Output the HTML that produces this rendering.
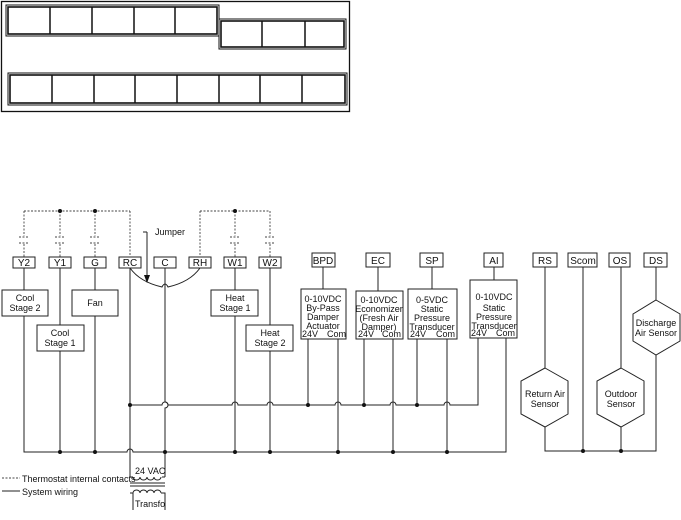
<!DOCTYPE html><html><head><style>body{margin:0;background:#fff}svg{display:block}text{font-family:"Liberation Sans",sans-serif;font-size:9px;fill:#111}</style></head><body>
<svg width="681" height="520" xmlns="http://www.w3.org/2000/svg">
<g fill="none" stroke="#111">
<rect x="1.5" y="1.5" width="348" height="110" stroke-width="1.3"/>
<rect x="6" y="5" width="213" height="31" stroke-width="1"/><rect x="8" y="7" width="209" height="27" stroke-width="1.6"/>
<path d="M50 7V34M92 7V34M134 7V34M175 7V34" stroke-width="1.5"/>
<rect x="219" y="19" width="127" height="30" stroke-width="1"/><rect x="221" y="21" width="123" height="26" stroke-width="1.6"/>
<path d="M262 21V47M305 21V47" stroke-width="1.5"/>
<rect x="8" y="73" width="339" height="32" stroke-width="1"/><rect x="10" y="75" width="335" height="28" stroke-width="1.6"/>
<path d="M52 75V103M94 75V103M135 75V103M177 75V103M219 75V103M260 75V103M302 75V103" stroke-width="1.5"/>
</g>
<g fill="none" stroke="#444" stroke-width="0.9" stroke-dasharray="2,1.5">
<path d="M24 211H130M200 211H270"/>
<path d="M24 211V236M60 211V236M95 211V236M235 211V236M270 211V236"/>
<path d="M24 244V257M60 244V257M95 244V257M235 244V257M270 244V257"/>
<path d="M130 211V257M200 211V257"/>
<path d="M19 237H29M19 243H29M55 237H65M55 243H65M90 237H100M90 243H100M230 237H240M230 243H240M265 237H275M265 243H275"/>
<path d="M2 478H20"/>
</g>
<g fill="#111"><circle cx="60" cy="211" r="2"/><circle cx="95" cy="211" r="2"/><circle cx="235" cy="211" r="2"/></g>
<g fill="none" stroke="#222" stroke-width="1">
<rect x="13" y="257" width="22" height="11"/><rect x="49" y="257" width="22" height="11"/><rect x="84" y="257" width="22" height="11"/><rect x="119" y="257" width="22" height="11"/><rect x="154" y="257" width="22" height="11"/><rect x="189" y="257" width="22" height="11"/><rect x="224" y="257" width="22" height="11"/><rect x="259" y="257" width="22" height="11"/>
<rect x="312" y="253" width="23" height="14"/><rect x="366" y="253" width="24" height="14"/><rect x="420" y="253" width="23" height="14"/><rect x="484" y="253" width="19" height="14"/>
<rect x="533" y="253" width="24" height="14"/><rect x="568" y="253" width="29" height="14"/><rect x="609" y="253" width="21" height="14"/><rect x="644" y="253" width="23" height="14"/>
<rect x="2" y="290" width="46" height="26"/><rect x="37" y="325" width="47" height="26"/><rect x="72" y="290" width="46" height="26"/><rect x="211" y="290" width="47" height="26"/><rect x="246" y="325" width="47" height="26"/>
<rect x="301" y="289" width="45" height="50"/><rect x="356" y="291" width="47" height="48"/><rect x="408" y="289" width="49" height="50"/><rect x="470" y="280" width="47" height="58"/>
<path d="M24 268V290M24 316V452H127a3 3 0 0 1 6 0H506V338"/>
<path d="M60 268V325M60 351V452M95 268V290M95 316V452M235 268V290M235 316V452M270 268V325M270 351V452"/>
<path d="M130 268V477M165 268V402a3 3 0 0 1 0 6V477"/>
<path d="M130 405H162a3 3 0 0 1 6 0H232a3 3 0 0 1 6 0H267a3 3 0 0 1 6 0H335a3 3 0 0 1 6 0H390a3 3 0 0 1 6 0H444a3 3 0 0 1 6 0H478V338"/>
<path d="M323 267V289M378 267V291M432 267V289M494 267V280"/>
<path d="M308 339V405M338 339V452M364 339V405M393 339V452M417 339V405M447 339V452"/>
<path d="M130 268Q140 282 162 287q3 -6 6 0Q190 282 200 268"/>
<path d="M147 232V282M143 232H147"/>
<path d="M545 267V368M545 427V451H656V355M583 267V451M621 267V368M621 427V451M656 267V300"/>
<polygon points="545,368 568,381 568,414 545,427 521,414 521,381"/>
<polygon points="621,368 644,381 644,414 621,427 597,414 597,381"/>
<polygon points="656,300 680,314 680,341 656,355 633,341 633,314"/>
<path d="M2 491H20"/>
<path d="M130 477H133M162 477H165"/>
<path d="M133 477a3.5 3 0 0 0 7 0a3.5 3 0 0 0 7 0a3.5 3 0 0 0 7 0a3.5 3 0 0 0 7 0"/>
<path d="M130 483H165M130 486H165"/>
<path d="M133 493a3.5 3 0 0 1 7 0a3.5 3 0 0 1 7 0a3.5 3 0 0 1 7 0a3.5 3 0 0 1 7 0M130 493H133V510M161 493H165V510"/>
</g>
<polygon points="144,275 150,275 147,283" fill="#111"/>
<g fill="#111">
<circle cx="60" cy="452" r="2"/><circle cx="95" cy="452" r="2"/><circle cx="165" cy="452" r="2"/><circle cx="235" cy="452" r="2"/><circle cx="270" cy="452" r="2"/><circle cx="338" cy="452" r="2"/><circle cx="393" cy="452" r="2"/><circle cx="447" cy="452" r="2"/>
<circle cx="130" cy="405" r="2"/><circle cx="308" cy="405" r="2"/><circle cx="364" cy="405" r="2"/><circle cx="417" cy="405" r="2"/>
<circle cx="583" cy="451" r="2"/><circle cx="621" cy="451" r="2"/>
</g>
<g text-anchor="middle" font-size="10">
<text x="24" y="266" style="font-size:10px">Y2</text><text x="60" y="266" style="font-size:10px">Y1</text><text x="95" y="266" style="font-size:10px">G</text><text x="130" y="266" style="font-size:10px">RC</text><text x="165" y="266" style="font-size:10px">C</text><text x="200" y="266" style="font-size:10px">RH</text><text x="235" y="266" style="font-size:10px">W1</text><text x="270" y="266" style="font-size:10px">W2</text>
<text x="323" y="264" style="font-size:10px">BPD</text><text x="378" y="264" style="font-size:10px">EC</text><text x="432" y="264" style="font-size:10px">SP</text><text x="494" y="264" style="font-size:10px">AI</text>
<text x="545" y="264" style="font-size:10px">RS</text><text x="583" y="264" style="font-size:10px">Scom</text><text x="620" y="264" style="font-size:10px">OS</text><text x="656" y="264" style="font-size:10px">DS</text>
<text x="25" y="301">Cool</text><text x="25" y="311">Stage 2</text>
<text x="60" y="336">Cool</text><text x="60" y="346">Stage 1</text>
<text x="95" y="306">Fan</text>
<text x="235" y="301">Heat</text><text x="235" y="311">Stage 1</text>
<text x="270" y="336">Heat</text><text x="270" y="346">Stage 2</text>
<text x="323" y="302">0-10VDC</text><text x="323" y="311">By-Pass</text><text x="323" y="320">Damper</text><text x="323" y="329">Actuator</text>
<text x="379" y="303">0-10VDC</text><text x="379" y="312">Economizer</text><text x="379" y="321">(Fresh Air</text><text x="379" y="330">Damper)</text>
<text x="432" y="303">0-5VDC</text><text x="432" y="312">Static</text><text x="432" y="321">Pressure</text><text x="432" y="330">Transducer</text>
<text x="494" y="300">0-10VDC</text><text x="494" y="311">Static</text><text x="494" y="320">Pressure</text><text x="494" y="329">Transducer</text>
<text x="545" y="397">Return Air</text><text x="545" y="407">Sensor</text>
<text x="621" y="397">Outdoor</text><text x="621" y="407">Sensor</text>
<text x="656" y="326">Discharge</text><text x="656" y="336">Air Sensor</text>
</g>
<text x="302" y="337">24V</text><text x="327" y="337">Com</text>
<text x="358" y="337">24V</text><text x="382" y="337">Com</text>
<text x="410" y="337">24V</text><text x="436" y="337">Com</text>
<text x="471" y="336">24V</text><text x="496" y="336">Com</text>
<text x="155" y="235">Jumper</text>
<text x="135" y="474">24 VAC</text>
<text x="135" y="507">Transfo</text>
<text x="22" y="482">Thermostat internal contacts</text>
<text x="22" y="495">System wiring</text>
</svg></body></html>
